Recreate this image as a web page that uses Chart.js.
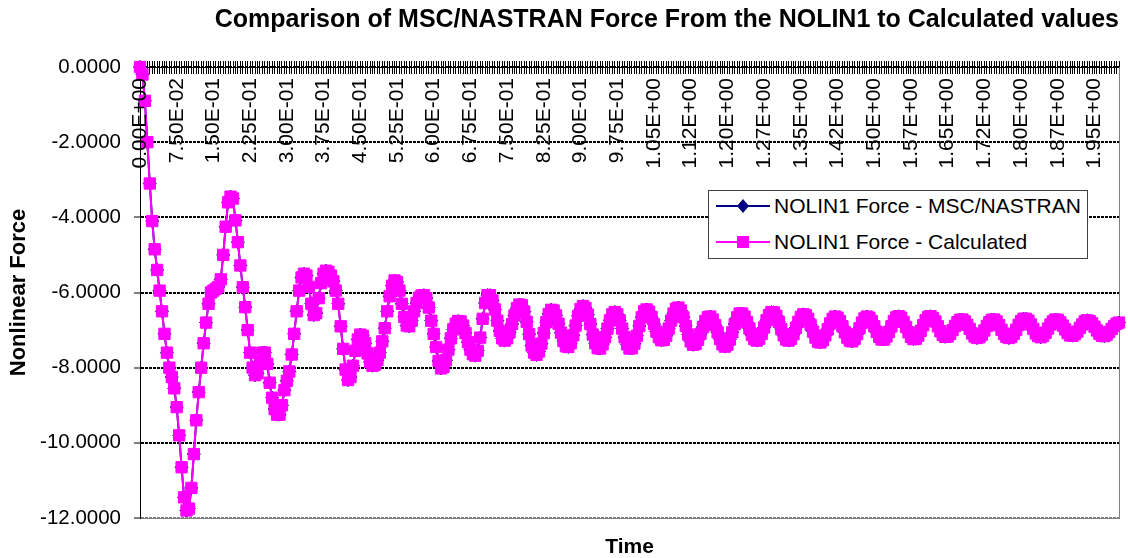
<!DOCTYPE html>
<html>
<head>
<meta charset="utf-8">
<title>NOLIN1 Force comparison</title>
<script src="https://cdn.jsdelivr.net/npm/chart.js@4.4.1/dist/chart.umd.min.js"></script>
<style>
  html, body { margin: 0; padding: 0; background: #fff; }
  #wrap { position: relative; width: 1128px; height: 558px; }
  #legend {
    position: absolute; left: 708px; top: 190px; width: 378px; height: 67px;
    border: 1px solid #404040; background: #fff;
    font-family: 'Liberation Sans', Arial, sans-serif; font-size: 21px; color: #000;
  }
  .item { position: absolute; left: 0; height: 24px; line-height: 24px; white-space: nowrap; }
  .item svg { position: absolute; left: 6px; top: 0; }
  .item span { position: absolute; left: 65px; top: 0; }
</style>
</head>
<body>
<div id="wrap">
  <canvas id="chart" width="1128" height="558"></canvas>
  <div id="legend">
    <div class="item" style="top:3px">
      <svg width="56" height="24"><line x1="1" y1="12" x2="55" y2="12" stroke="#000080" stroke-width="2"/><polygon points="28,5 34,12 28,19 22,12" fill="#000080"/></svg>
      <span>NOLIN1 Force - MSC/NASTRAN</span>
    </div>
    <div class="item" style="top:39px">
      <svg width="56" height="24"><line x1="1" y1="12" x2="55" y2="12" stroke="#FF00FF" stroke-width="2"/><rect x="22" y="6" width="12" height="12" fill="#FF00FF"/></svg>
      <span>NOLIN1 Force - Calculated</span>
    </div>
  </div>
</div>
<script>
// tick labels shown every 15th time step (as Excel printed them)
const tickLabels = ['0.00E+00', '7.50E-02', '1.50E-01', '2.25E-01', '3.00E-01', '3.75E-01', '4.50E-01',
    '5.25E-01', '6.00E-01', '6.75E-01', '7.50E-01', '8.25E-01', '9.00E-01', '9.75E-01', '1.05E+00',
    '1.12E+00', '1.20E+00', '1.27E+00', '1.35E+00', '1.42E+00', '1.50E+00', '1.57E+00', '1.65E+00',
    '1.72E+00', '1.80E+00', '1.87E+00', '1.95E+00'];
const labelEvery = 15;

// calculated NOLIN1 force, one value per 0.005 s step
const forceCalculated = [
    0, -0.2, -0.9, -2.0, -3.1, -4.1, -4.85, -5.4, -5.95, -6.5,
    -7.1, -7.6, -8.0, -8.25, -8.55, -9.05, -9.8, -10.65, -11.45, -11.8,
    -11.75, -11.2, -10.3, -9.4, -8.65, -8.0, -7.35, -6.8, -6.3, -6.0,
    -5.95, -5.9, -5.85, -5.65, -5.0, -4.25, -3.6, -3.45, -3.5, -4.08,
    -4.66, -5.28, -5.86, -6.39, -7.0, -7.6, -8.0, -8.2, -8.15, -7.85,
    -7.6, -7.6, -7.9, -8.4, -8.8, -9.1, -9.25, -9.25, -9.0, -8.6,
    -8.35, -8.1, -7.65, -7.1, -6.5, -5.95, -5.6, -5.5, -5.55, -5.85,
    -6.3, -6.6, -6.55, -6.15, -5.75, -5.5, -5.42, -5.45, -5.55, -5.7,
    -5.95, -6.3, -6.9, -7.5, -8.05, -8.33, -8.25, -7.95, -7.55, -7.25,
    -7.12, -7.15, -7.35, -7.62, -7.85, -7.95, -7.92, -7.8, -7.6, -7.3,
    -6.95, -6.5, -6.1, -5.82, -5.68, -5.72, -5.95, -6.3, -6.65, -6.88,
    -6.9, -6.75, -6.5, -6.28, -6.14, -6.08, -6.07, -6.15, -6.4, -6.75,
    -7.1, -7.45, -7.82, -8.02, -7.98, -7.8, -7.52, -7.22, -6.98, -6.83,
    -6.76, -6.77, -6.88, -7.08, -7.32, -7.52, -7.64, -7.68, -7.55, -7.2,
    -6.7, -6.28, -6.07, -6.07, -6.21, -6.45, -6.75, -7.02, -7.22, -7.28,
    -7.22, -7.06, -6.84, -6.61, -6.42, -6.32, -6.34, -6.51, -6.78, -7.11,
    -7.41, -7.60, -7.66, -7.57, -7.36, -7.08, -6.79, -6.57, -6.46, -6.48,
    -6.61, -6.83, -7.07, -7.29, -7.43, -7.45, -7.35, -7.14, -6.88, -6.62,
    -6.44, -6.36, -6.41, -6.59, -6.84, -7.12, -7.35, -7.48, -7.49, -7.38,
    -7.19, -6.96, -6.74, -6.58, -6.52, -6.58, -6.74, -6.96, -7.19, -7.38,
    -7.49, -7.48, -7.36, -7.15, -6.89, -6.66, -6.50, -6.45, -6.51, -6.65,
    -6.84, -7.04, -7.19, -7.27, -7.26, -7.15, -6.96, -6.75, -6.56, -6.43,
    -6.40, -6.48, -6.66, -6.89, -7.12, -7.30, -7.39, -7.37, -7.26, -7.10,
    -6.92, -6.76, -6.66, -6.64, -6.72, -6.87, -7.06, -7.24, -7.38, -7.44,
    -7.39, -7.25, -7.06, -6.84, -6.66, -6.56, -6.56, -6.64, -6.79, -6.96,
    -7.13, -7.24, -7.28, -7.23, -7.10, -6.93, -6.74, -6.60, -6.52, -6.53,
    -6.62, -6.78, -6.97, -7.14, -7.25, -7.28, -7.23, -7.11, -6.94, -6.78,
    -6.65, -6.58, -6.60, -6.70, -6.86, -7.04, -7.20, -7.31, -7.33, -7.27,
    -7.14, -6.98, -6.82, -6.70, -6.64, -6.67, -6.76, -6.90, -7.06, -7.20,
    -7.28, -7.30, -7.23, -7.11, -6.95, -6.80, -6.69, -6.64, -6.67, -6.76,
    -6.90, -7.05, -7.18, -7.25, -7.25, -7.17, -7.05, -6.90, -6.76, -6.66,
    -6.63, -6.67, -6.78, -6.92, -7.06, -7.18, -7.24, -7.23, -7.15, -7.02,
    -6.87, -6.74, -6.65, -6.63, -6.68, -6.77, -6.90, -7.03, -7.13, -7.18,
    -7.17, -7.10, -7.00, -6.89, -6.79, -6.73, -6.72, -6.77, -6.86, -6.97,
    -7.09, -7.17, -7.21, -7.19, -7.12, -7.01, -6.89, -6.79, -6.73, -6.72,
    -6.77, -6.87, -6.99, -7.10, -7.18, -7.21, -7.18, -7.10, -6.99, -6.86,
    -6.76, -6.70, -6.70, -6.75, -6.85, -6.97, -7.09, -7.16, -7.19, -7.15,
    -7.07, -6.96, -6.85, -6.77, -6.72, -6.73, -6.79, -6.88, -6.98, -7.08,
    -7.14, -7.15, -7.11, -7.04, -6.94, -6.85, -6.77, -6.74, -6.76, -6.82,
    -6.91, -7.01, -7.10, -7.15, -7.16, -7.12, -7.05, -6.97, -6.89, -6.83,
    -6.80
];
// the MSC/NASTRAN series sits exactly under the calculated one
const forceNastran = forceCalculated.slice();

// time categories, 0.005 s apart
const timeSteps = forceCalculated.map((v, i) => (i * 0.005).toFixed(3));

Chart.defaults.font.family = "'Liberation Sans', Arial, sans-serif";
Chart.defaults.color = '#000';

const ctx = document.getElementById('chart').getContext('2d');
new Chart(ctx, {
    type: 'line',
    data: {
        labels: timeSteps,
        datasets: [
            {
                label: 'NOLIN1 Force - MSC/NASTRAN',
                data: forceNastran,
                borderColor: '#000080',
                backgroundColor: '#000080',
                borderWidth: 2,
                pointStyle: 'rectRot',
                pointRadius: 6.5,
                pointBorderWidth: 1,
                pointBackgroundColor: '#000080',
                pointBorderColor: '#000080',
                order: 1,
                clip: false,
            },
            {
                label: 'NOLIN1 Force - Calculated',
                data: forceCalculated,
                borderColor: '#FF00FF',
                backgroundColor: '#FF00FF',
                borderWidth: 2,
                pointStyle: 'rect',
                pointRadius: 8,
                pointBorderWidth: 1,
                pointBackgroundColor: '#FF00FF',
                pointBorderColor: '#FF00FF',
                order: 0,
                clip: false,
            },
        ],
    },
    options: {
        responsive: false,
        animation: false,
        devicePixelRatio: 1,
        events: [],
        layout: {
            padding: { left: 0, right: 4, top: 0, bottom: 0 },
        },
        scales: {
            // category axis crosses at y = 0, i.e. along the top of the plot
            x: {
                type: 'category',
                position: { y: 0 },
                offset: false,
                ticks: {
                    autoSkip: false,
                    minRotation: 90,
                    maxRotation: 90,
                    padding: 5,
                    z: 1,
                    font: { size: 21 },
                    callback: (value, index) => (index % labelEvery === 0 ? tickLabels[index / labelEvery] : ''),
                },
                grid: { drawOnChartArea: false, tickLength: 6, color: '#000', lineWidth: 1 },
                border: { display: true, color: '#000', width: 1 },
                afterFit: (scale) => {
                    scale.paddingLeft = 0;
                    scale.paddingRight = 0;
                    scale.paddingTop = 0;
                    scale.paddingBottom = 0;
                },
            },
            // upper half of the crossing tick marks
            x2: {
                type: 'category',
                position: 'top',
                offset: false,
                ticks: { display: false },
                grid: { drawOnChartArea: false, tickLength: 6, color: '#000', lineWidth: 1 },
                border: { display: false },
                afterFit: (scale) => { scale.height = 6; },
            },
            // bottom edge of the plot area + axis title
            x3: {
                type: 'category',
                position: 'bottom',
                offset: false,
                ticks: { display: false },
                grid: { display: false },
                border: { display: true, color: '#808080', width: 1 },
                title: {
                    display: true,
                    text: 'Time',
                    font: { size: 21, weight: 'bold', lineHeight: 1 },
                    padding: { top: 20, bottom: 0 },
                },
                afterFit: (scale) => { scale.height = 40; },
            },
            y: {
                type: 'linear',
                position: 'left',
                min: -12,
                max: 0,
                ticks: {
                    stepSize: 2,
                    padding: 13,
                    font: { size: 20.5 },
                    callback: (value) => Number(value).toFixed(4),
                },
                grid: {
                    color: (c) => (c.tick && c.tick.value === -12 ? '#808080' : '#000'),
                    lineWidth: 2,
                    tickLength: 6,
                    tickColor: '#000',
                    tickWidth: 1,
                },
                border: { display: true, color: '#000', width: 1, dash: [3, 1] },
                title: {
                    display: true,
                    text: 'Nonlinear Force',
                    font: { size: 22, weight: 'bold' },
                    padding: { top: 6, bottom: 0 },
                },
                afterFit: (scale) => { scale.width = 140; },
            },
            // right edge of the plot area
            yR: {
                type: 'linear',
                position: 'right',
                ticks: { display: false },
                grid: { display: false },
                border: { display: true, color: '#808080', width: 1 },
                afterFit: (scale) => { scale.width = 0; },
            },
        },
        plugins: {
            legend: { display: false },
            tooltip: { enabled: false },
            title: {
                display: true,
                fullSize: false,
                align: 'end',
                text: 'Comparison of MSC/NASTRAN Force From the NOLIN1 to Calculated values',
                color: '#000',
                font: { size: 25, weight: 'bold' },
                padding: { top: 5, bottom: 26 },
            },
        },
    },
});
</script>
</body>
</html>
